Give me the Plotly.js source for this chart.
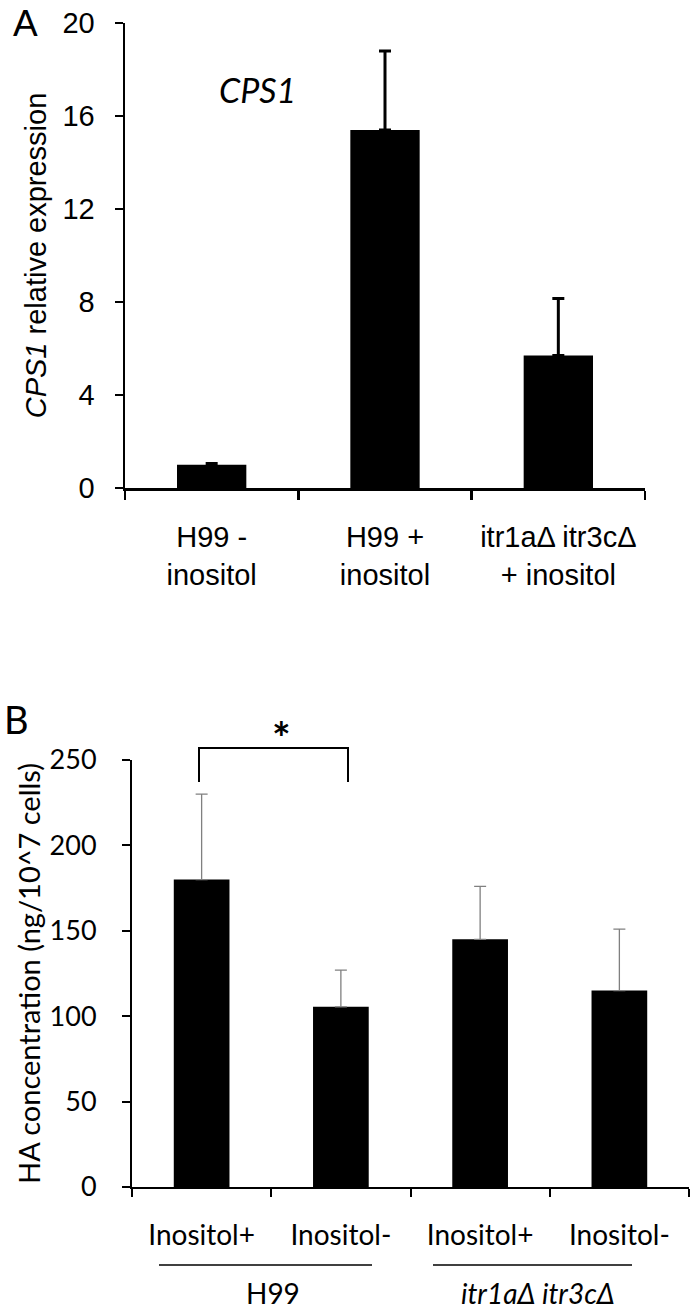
<!DOCTYPE html>
<html>
<head>
<meta charset="utf-8">
<script src="https://cdn.plot.ly/plotly-3.0.1.min.js"></script>
<style>html,body{margin:0;padding:0;background:#fff;}#chart{width:696px;height:1313px;}</style>
</head>
<body>
<div id="chart"></div>
<script>
// Panel A data
const catsA = ["H99 -<br>inositol", "H99 +<br>inositol", "itr1aΔ itr3cΔ<br>+ inositol"];
const valsA = [1.0, 15.4, 5.7];
const errA = [0.05, 3.4, 2.45];
const yTicksA = [0, 4, 8, 12, 16, 20];

// Panel B data
const catsB = ["H99 Inositol+", "H99 Inositol-", "itr Inositol+", "itr Inositol-"];
const tickTextB = ["Inositol+", "Inositol-", "Inositol+", "Inositol-"];
const valsB = [180, 105.5, 145, 115];
const errB = [50, 21.5, 31, 36];
const yTicksB = [0, 50, 100, 150, 200, 250];
const groupsB = ["H99", "<i>itr1aΔ itr3cΔ</i>"];

const W = 696, H = 1313;
const px = v => v / W;
const py = v => 1 - v / H;

const fontA = "Liberation Sans, Arial, sans-serif";
const fontB = "Lato, Carlito, sans-serif";

const traces = [
  {
    type: "bar", x: catsA, y: valsA, xaxis: "x", yaxis: "y", width: 0.4,
    marker: {color: "#000", line: {width: 0}},
    error_y: {type: "data", symmetric: false, array: errA, arrayminus: errA.map(() => 0),
              color: "#000", thickness: 3, width: 6},
    hoverinfo: "none", showlegend: false
  },
  {
    type: "bar", x: catsB, y: valsB, xaxis: "x2", yaxis: "y2", width: 0.4,
    marker: {color: "#000", line: {width: 0}},
    error_y: {type: "data", symmetric: false, array: errB, arrayminus: errB.map(() => 0),
              color: "#808080", thickness: 1.3, width: 6},
    hoverinfo: "none", showlegend: false
  }
];

const layout = {
  width: W, height: H,
  margin: {l: 0, r: 0, t: 0, b: 0},
  paper_bgcolor: "#fff", plot_bgcolor: "rgba(0,0,0,0)",
  showlegend: false,
  xaxis: {
    domain: [px(125), px(645)], anchor: "y", type: "category",
    range: [-0.5, 2.5], tickson: "boundaries",
    ticks: "outside", ticklen: 9, tickwidth: 2.5, tickcolor: "#000",
    showline: true, linecolor: "#000", linewidth: 2.5, showgrid: false, zeroline: false,
    tickfont: {family: fontA, size: 29, color: "#000"}, ticklabelstandoff: 22,
    fixedrange: true
  },
  yaxis: {
    domain: [py(488), py(23)], anchor: "x", range: [0, 20],
    tickmode: "array", tickvals: yTicksA, ticktext: yTicksA.map(String),
    ticks: "outside", ticklen: 8, tickwidth: 2.5, tickcolor: "#000",
    showline: true, linecolor: "#000", linewidth: 2.5, showgrid: false, zeroline: false,
    tickfont: {family: fontA, size: 29, color: "#000"}, ticklabelstandoff: 14,
    title: {text: "<i>CPS1</i> relative expression", font: {family: fontA, size: 29, color: "#000"}, standoff: 8},
    fixedrange: true
  },
  xaxis2: {
    domain: [px(132), px(689)], anchor: "y2", type: "category",
    range: [-0.5, 3.5], tickson: "boundaries",
    tickmode: "array", tickvals: catsB, ticktext: tickTextB,
    ticks: "outside", ticklen: 8, tickwidth: 2, tickcolor: "#000",
    showline: true, linecolor: "#000", linewidth: 2, showgrid: false, zeroline: false,
    tickfont: {family: fontB, size: 28, color: "#000"}, ticklabelstandoff: 22,
    fixedrange: true
  },
  yaxis2: {
    domain: [py(1187), py(760)], anchor: "x2", range: [0, 250],
    tickmode: "array", tickvals: yTicksB, ticktext: yTicksB.map(String),
    ticks: "outside", ticklen: 8, tickwidth: 2, tickcolor: "#000",
    showline: true, linecolor: "#000", linewidth: 2, showgrid: false, zeroline: false,
    tickfont: {family: fontB, size: 27, color: "#000"}, ticklabelstandoff: 20,
    title: {text: "HA concentration (ng/10^7 cells)", font: {family: fontB, size: 29, color: "#000"}, standoff: 0},
    fixedrange: true
  },
  shapes: [
    // significance bracket
    {type: "path", xref: "paper", yref: "paper",
     path: `M ${px(199)} ${py(782)} L ${px(199)} ${py(748)} L ${px(348)} ${py(748)} L ${px(348)} ${py(782)}`,
     line: {color: "#000", width: 2}},
    // group underlines
    {type: "line", xref: "paper", yref: "paper", x0: px(159), x1: px(372), y0: py(1265), y1: py(1265),
     line: {color: "#000", width: 1.5}},
    {type: "line", xref: "paper", yref: "paper", x0: px(433), x1: px(632), y0: py(1265), y1: py(1265),
     line: {color: "#000", width: 1.5}}
  ],
  annotations: [
    {text: "A", xref: "paper", yref: "paper", x: px(25), y: py(23), xanchor: "center", yanchor: "middle",
     showarrow: false, font: {family: fontA, size: 37, color: "#000"}},
    {text: "<i>CPS1</i>", xref: "paper", yref: "paper", x: px(257), y: py(89), xanchor: "center", yanchor: "middle",
     showarrow: false, font: {family: fontB, size: 34, color: "#000"}},
    {text: "B", xref: "paper", yref: "paper", x: px(16), y: py(719), xanchor: "center", yanchor: "middle",
     showarrow: false, font: {family: fontB, size: 38, color: "#000"}},
    {text: "<b>*</b>", xref: "paper", yref: "paper", x: px(281), y: py(737), xanchor: "center", yanchor: "middle",
     showarrow: false, font: {family: fontB, size: 44, color: "#000"}},
    {text: groupsB[0], xref: "paper", yref: "paper", x: px(273), y: py(1293), xanchor: "center", yanchor: "middle",
     showarrow: false, font: {family: fontB, size: 28, color: "#000"}},
    {text: groupsB[1], xref: "paper", yref: "paper", x: px(538), y: py(1293), xanchor: "center", yanchor: "middle",
     showarrow: false, font: {family: fontB, size: 28, color: "#000"}}
  ]
};

Plotly.newPlot("chart", traces, layout, {staticPlot: true, displayModeBar: false});
</script>
</body>
</html>
